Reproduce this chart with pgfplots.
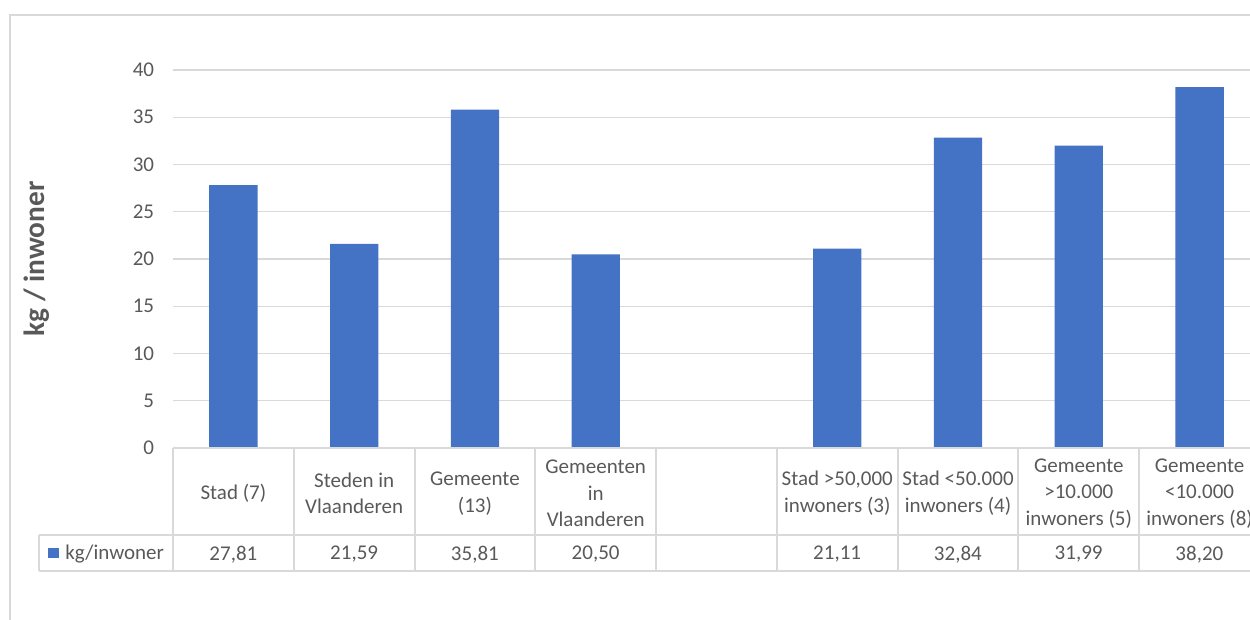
\documentclass[border=0pt]{standalone}
\usepackage{pgfplots}
\pgfplotsset{compat=1.18}
\usepackage{fontspec}
\setmainfont{Carlito}
\definecolor{barblue}{HTML}{4472C4}
\definecolor{txtgray}{HTML}{595959}
\definecolor{gridgray}{HTML}{D9D9D9}
\begin{document}
\begin{tikzpicture}[x=0.75pt,y=0.75pt]
\useasboundingbox (0,0) rectangle (1250,619);
\clip (0,0) rectangle (1250,619);
% outer chart frame
\draw[gridgray, line width=1.5pt] (10,-5) -- (10,604) -- (1260,604);
\begin{axis}[
  at={(129.75pt,128.25pt)}, anchor=south west,
  scale only axis, width=815.25pt, height=283.5pt,
  xmin=-0.5, xmax=8.5, ymin=0, ymax=40,
  ytick={0,5,...,40},
  xtick={0,...,8},
  xticklabels={{Stad (7)},{Steden in\\Vlaanderen},{Gemeente\\(13)},{Gemeenten\\in\\Vlaanderen},{},{Stad >50,000\\inwoners (3)},{Stad <50.000\\inwoners (4)},{Gemeente\\>10.000\\inwoners (5)},{Gemeente\\<10.000\\inwoners (8)}},
  axis line style={draw=none},
  major tick style={draw=none},
  ymajorgrids, grid style={gridgray, line width=1.1pt},
  /pgf/number format/assume math mode=true,
  ticklabel style={font=\fontsize{15.75}{20}\selectfont, text=txtgray},
  yticklabel style={anchor=east, inner sep=0pt, xshift=-14pt},
  xticklabel style={align=center, anchor=center, inner sep=0pt, yshift=-34pt},
  clip=false,
]
\addplot[ybar, bar width=0.4, fill=barblue, draw=none] coordinates {
  (0,27.81) (1,21.59) (2,35.81) (3,20.50) (5,21.11) (6,32.84) (7,31.99) (8,38.20)
};
\end{axis}
% data table grid
\begin{scope}[gridgray, line width=1.5pt]
\draw (173,171) -- (1265,171);
\draw (39,84) -- (1265,84);
\draw (39,48) -- (1265,48);
\draw (39,84) -- (39,48);
\foreach \k in {0,...,9} {\draw ({173+\k*120.75},171) -- ({173+\k*120.75},48);}
\end{scope}
% legend key and series name
\fill[barblue] (48,61) rectangle (59,71);
\node[anchor=west, inner sep=0pt, text=txtgray, font=\fontsize{15.75}{20}\selectfont] at (65,64.5) {kg/inwoner};
% values row (data table)
\begin{scope}[every node/.style={text=txtgray, font=\fontsize{15.75}{20}\selectfont, inner sep=0pt}]
\node at ({173+0.5*120.75},64.5) {27,81};
\node at ({173+1.5*120.75},64.5) {21,59};
\node at ({173+2.5*120.75},64.5) {35,81};
\node at ({173+3.5*120.75},64.5) {20,50};
\node at ({173+5.5*120.75},64.5) {21,11};
\node at ({173+6.5*120.75},64.5) {32,84};
\node at ({173+7.5*120.75},64.5) {31,99};
\node at ({173+8.5*120.75},64.5) {38,20};
\end{scope}
% y axis title
\node[rotate=90, text=txtgray, font=\bfseries\fontsize{22}{26}\selectfont] at (37,360) {kg / inwoner};
\end{tikzpicture}
\end{document}
